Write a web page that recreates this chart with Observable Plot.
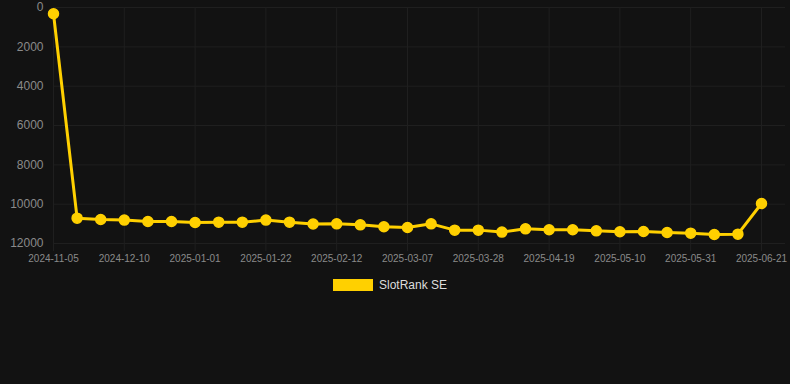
<!DOCTYPE html>
<html>
<head>
<meta charset="utf-8">
<script src="https://cdn.jsdelivr.net/npm/d3@7"></script>
<script src="https://cdn.jsdelivr.net/npm/@observablehq/plot@0.6"></script>
<style>
  html, body { margin: 0; padding: 0; background: #121212; }
  body { width: 790px; height: 384px; overflow: hidden; font-family: "Liberation Sans", Arial, sans-serif; }
  #chart svg { display: block; background: #121212; }
  .legend { display: flex; justify-content: center; align-items: center; margin-top: 10px; margin-right: 10px; font-size: 12px; color: #dddddd; }
  .legend .box { width: 40px; height: 12px; background: #ffd000; margin-right: 6px; }
</style>
</head>
<body>
<div id="chart"></div>
<div class="legend"><span class="box"></span><span>SlotRank SE</span></div>
<script>
const dates = [
  "2024-11-05","2024-11-26","2024-12-03","2024-12-10","2024-12-17","2024-12-24",
  "2025-01-01","2025-01-08","2025-01-15","2025-01-22","2025-01-29","2025-02-05",
  "2025-02-12","2025-02-19","2025-02-26","2025-03-07","2025-03-14","2025-03-21",
  "2025-03-28","2025-04-04","2025-04-11","2025-04-19","2025-04-26","2025-05-03",
  "2025-05-10","2025-05-17","2025-05-24","2025-05-31","2025-06-07","2025-06-14",
  "2025-06-21"
];
const ranks = [
  320, 10710, 10780, 10810, 10880, 10880,
  10930, 10915, 10915, 10810, 10915, 11010,
  11000, 11050, 11150, 11185, 11000, 11320,
  11320, 11420, 11255, 11300, 11300, 11355,
  11405, 11390, 11440, 11475, 11545, 11525,
  9965
];
const xTickLabels = ["2024-11-05","2024-12-10","2025-01-01","2025-01-22","2025-02-12","2025-03-07","2025-03-28","2025-04-19","2025-05-10","2025-05-31","2025-06-21"];
const yTicks = [0, 2000, 4000, 6000, 8000, 10000, 12000];
const seriesName = "SlotRank SE";

const data = dates.map((d, i) => ({date: d, rank: ranks[i], series: seriesName}));
const gridColor = "#1f1f1f";
const lineColor = "#ffd000";

const chart = Plot.plot({
  width: 790,
  height: 268,
  marginTop: 7,
  marginBottom: 25,
  marginLeft: 53,
  marginRight: 5,
  style: {background: "#121212", fontFamily: "Liberation Sans, Arial, sans-serif"},
  x: {type: "point", domain: dates, padding: 0, round: false, insetRight: 24},
  y: {domain: [0, 12000], reverse: true, label: null},
  marks: [
    Plot.ruleY(yTicks, {stroke: gridColor, strokeWidth: 1}),
    Plot.ruleX(xTickLabels, {stroke: gridColor, strokeWidth: 1}),
    Plot.axisY({ticks: yTicks, tickSize: 0, tickPadding: 10, fill: "#8a8a8a", fontSize: 12, label: null, tickFormat: d => String(d)}),
    Plot.axisX({ticks: xTickLabels, tickSize: 8, tickPadding: 3, stroke: gridColor, fill: "#8a8a8a", fontSize: 10, label: null}),
    Plot.line(data, {x: "date", y: "rank", stroke: lineColor, strokeWidth: 3}),
    Plot.dot(data, {x: "date", y: "rank", r: 5, fill: lineColor, stroke: lineColor})
  ]
});
document.getElementById("chart").append(chart);
</script>
</body>
</html>
